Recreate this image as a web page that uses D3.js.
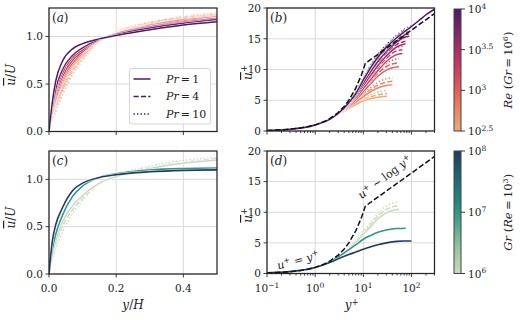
<!DOCTYPE html>
<html><head><meta charset="utf-8">
<script src="https://cdn.jsdelivr.net/npm/d3@7"></script>
<style>body{margin:0;background:#fff}svg text{font-family:"DejaVu Serif",serif;fill:#222}</style>
</head><body><svg id="c" width="520" height="320"></svg>
<script>
// ---------------- DATA ----------------
const reExponents = [2.5, 2.75, 3, 3.25, 3.5, 3.75, 4];
const prandtlValues = [1, 4, 10];
const grExponents = [6, 7, 8];
const reTicks = [2.5, 3, 3.5, 4];
const grTicks = [6, 7, 8];
const outerTicks = [0, 0.2, 0.4];
const outerYTicks = [0, 0.5, 1.0];
const plusYTicks = [0, 5, 10, 15, 20];
const plusXTicks = [-1, 0, 1, 2];

// panel (a): y/H grid and mean velocity u/U, [Re][Pr]
const outerGrid = [0, 0.01, 0.02, 0.04, 0.07, 0.1, 0.15, 0.2, 0.3, 0.4, 0.5];
const outerU = [
  [[0,0.17,0.31,0.50,0.68,0.80,0.957,1.04,1.125,1.18,1.22],
   [0,0.14,0.26,0.44,0.64,0.776,0.954,1.045,1.14,1.20,1.23],
   [0,0.11,0.21,0.39,0.60,0.75,0.95,1.05,1.15,1.21,1.245]],
  [[0,0.19,0.33,0.52,0.70,0.82,0.96,1.035,1.12,1.18,1.21],
   [0,0.15,0.28,0.47,0.66,0.79,0.955,1.04,1.13,1.19,1.225],
   [0,0.13,0.24,0.42,0.62,0.765,0.952,1.047,1.145,1.20,1.24]],
  [[0,0.20,0.35,0.55,0.72,0.83,0.96,1.03,1.115,1.17,1.205],
   [0,0.17,0.31,0.50,0.68,0.80,0.957,1.04,1.125,1.18,1.22],
   [0,0.14,0.26,0.44,0.64,0.776,0.954,1.045,1.14,1.20,1.23]],
  [[0,0.22,0.39,0.58,0.75,0.84,0.964,1.03,1.105,1.16,1.195],
   [0,0.19,0.33,0.52,0.70,0.82,0.96,1.035,1.12,1.18,1.21],
   [0,0.15,0.28,0.47,0.66,0.79,0.955,1.04,1.13,1.19,1.225]],
  [[0,0.24,0.42,0.62,0.78,0.86,0.965,1.025,1.10,1.15,1.19],
   [0,0.20,0.35,0.55,0.72,0.83,0.96,1.03,1.115,1.17,1.205],
   [0,0.17,0.31,0.50,0.68,0.80,0.957,1.04,1.125,1.18,1.22]],
  [[0,0.26,0.45,0.65,0.80,0.88,0.97,1.02,1.09,1.14,1.18],
   [0,0.22,0.39,0.58,0.75,0.84,0.964,1.03,1.105,1.16,1.195],
   [0,0.19,0.34,0.53,0.71,0.82,0.96,1.035,1.12,1.17,1.21]],
  [[0,0.31,0.53,0.74,0.87,0.925,0.975,1.01,1.07,1.12,1.155],
   [0,0.25,0.43,0.64,0.79,0.87,0.97,1.02,1.09,1.15,1.18],
   [0,0.22,0.39,0.58,0.75,0.84,0.964,1.03,1.105,1.16,1.195]]
];

// panel (b): y+ grids per Re and u+ values [Re][Pr]
const plusGrid = [
  [0.1,0.3,1,2,3,5,7,10,15,20,31],
  [0.1,0.3,1,2,3,5,7,10,15,20,30,40],
  [0.1,0.3,1,2,3,5,7,10,15,20,30,40,55],
  [0.1,0.3,1,2,3,5,7,10,15,20,30,45,65],
  [0.1,0.3,1,2,3,5,7,10,15,20,30,50,75],
  [0.1,0.3,1,2,3,5,7,10,15,20,30,50,70,90],
  [0.1,0.3,1,2,3,5,7,10,15,20,30,50,70,100,150,200,300]
];
const plusU = [
  [[0.1,0.3,0.98,1.88,2.65,3.7,4.3,4.9,5.3,5.5,5.65],
   [0.1,0.3,0.98,1.88,2.67,3.8,4.45,5.1,5.6,5.85,6.1],
   [0.1,0.3,0.98,1.88,2.7,3.9,4.6,5.35,5.95,6.3,6.6]],
  [[0.1,0.3,0.98,1.88,2.7,3.9,4.7,5.6,6.5,7.0,7.4,7.5],
   [0.1,0.3,0.98,1.88,2.72,4.0,4.85,5.85,6.85,7.45,7.95,8.1],
   [0.1,0.3,0.98,1.88,2.75,4.1,5.0,6.1,7.2,7.9,8.5,8.7]],
  [[0.1,0.3,0.98,1.88,2.75,4.1,5.1,6.4,7.9,8.9,9.9,10.3,10.45],
   [0.1,0.3,0.98,1.88,2.77,4.2,5.25,6.65,8.25,9.35,10.45,10.9,11.1],
   [0.1,0.3,0.98,1.88,2.8,4.3,5.4,6.9,8.6,9.8,11.0,11.5,11.8]],
  [[0.1,0.3,0.98,1.88,2.78,4.3,5.4,6.9,8.6,9.8,11.3,12.3,12.6],
   [0.1,0.3,0.98,1.88,2.8,4.35,5.55,7.15,8.95,10.2,11.8,12.9,13.2],
   [0.1,0.3,0.98,1.88,2.82,4.4,5.7,7.4,9.3,10.6,12.3,13.4,13.8]],
  [[0.1,0.3,0.98,1.88,2.8,4.4,5.7,7.4,9.3,10.6,12.2,13.7,14.2],
   [0.1,0.3,0.98,1.88,2.82,4.45,5.8,7.6,9.6,10.95,12.6,14.1,14.6],
   [0.1,0.3,0.98,1.88,2.84,4.5,5.9,7.8,9.9,11.3,13.0,14.6,15.1]],
  [[0.1,0.3,0.98,1.88,2.82,4.5,5.9,7.8,9.9,11.3,12.9,14.5,15.2,15.4],
   [0.1,0.3,0.98,1.88,2.84,4.55,6.0,8.0,10.2,11.6,13.3,14.9,15.6,15.8],
   [0.1,0.3,0.98,1.88,2.86,4.6,6.1,8.2,10.5,11.9,13.6,15.3,16.0,16.2]],
  [[0.1,0.3,0.98,1.88,2.85,4.6,6.1,8.3,10.6,12.0,13.6,15.2,16.1,17.0,18.1,18.9,19.8],
   [0.1,0.3,0.98,1.88,2.86,4.65,6.2,8.45,10.8,12.2,13.8,15.4,16.3,16.9],
   [0.1,0.3,0.98,1.88,2.87,4.7,6.3,8.6,11.0,12.4,14.0,15.6,16.5,17.1]]
];

// panels (c),(d): Gr = 1e7 and 1e8 (Pr = 1); Gr = 1e6 equals Re = 1e3 case above
const grOuterU = [
  null,
  [0,0.26,0.42,0.62,0.82,0.93,1.02,1.06,1.10,1.115,1.12],
  [0,0.35,0.52,0.70,0.88,0.96,1.02,1.05,1.08,1.095,1.10]
];
const grPlusGrid = [
  null,
  [0.1,0.3,1,2,3,5,7,10,15,20,30,50,76],
  [0.1,0.3,1,2,3,5,7,10,15,20,30,50,70,100]
];
const grPlusU = [
  null,
  [0.1,0.3,0.98,1.88,2.7,3.9,4.7,5.6,6.3,6.75,7.1,7.35,7.4],
  [0.1,0.3,0.97,1.8,2.4,3.1,3.5,3.95,4.4,4.7,5.0,5.25,5.3,5.3]
];

// law of the wall reference
const wallYPlus = [0.1,0.15,0.2,0.3,0.5,0.7,1,1.5,2,3,4,5,7,9,11,300];
const wallUPlus = [0.1,0.15,0.2,0.3,0.5,0.7,1,1.5,2,3,4,5,7,9,11,19.1];

// ---------------- DRAW ----------------
const svg = d3.select("#c");
const ink = "#262626";
const flare = d3.interpolateRgbBasis(["#eea879","#ec8e68","#e6695a","#d94a5a","#c03664","#9b2c6b","#70246a","#4a1d5e"]);
const crest = d3.interpolateRgbBasis(["#cbd9c1","#a6c9a4","#6db395","#2a9487","#1f7a7c","#205d71","#203c5c"]);
const reT = d3.scaleLinear([2.5,4],[0,1]);
const grT = d3.scaleLinear([6,8],[0,1]);
const dashes = [null, "5.2,2.2", "1.4,2.1"];

const A = {l:49, r:217, t:8, b:131.5};
const B = {l:267, r:434.5, t:8, b:131};
const C = {l:49, r:217, t:151, b:274};
const D = {l:267, r:434.5, t:151, b:273.5};

const xA = d3.scaleLinear([0,0.5],[A.l,A.r]), yA = d3.scaleLinear([0,1.3],[A.b,A.t]);
const xC = d3.scaleLinear([0,0.5],[C.l,C.r]), yC = d3.scaleLinear([0,1.3],[C.b,C.t]);
const xB = d3.scaleLog([0.1,300],[B.l,B.r]), yB = d3.scaleLinear([0,20],[B.b,B.t]);
const xD = d3.scaleLog([0.1,300],[D.l,D.r]), yD = d3.scaleLinear([0,20],[D.b,D.t]);

const defs = svg.append("defs");
function clip(id,P){defs.append("clipPath").attr("id",id).append("rect").attr("x",P.l).attr("y",P.t).attr("width",P.r-P.l).attr("height",P.b-P.t);}
clip("ca",A);clip("cb",B);clip("cc",C);clip("cd",D);

function grid(P,x,y,xs,ys){
  const g = svg.append("g");
  xs.forEach(v=>g.append("line").attr("x1",x(v)).attr("x2",x(v)).attr("y1",P.t).attr("y2",P.b).attr("stroke","#dadada").attr("stroke-width",1));
  ys.forEach(v=>g.append("line").attr("x1",P.l).attr("x2",P.r).attr("y1",y(v)).attr("y2",y(v)).attr("stroke","#dadada").attr("stroke-width",1));
}
grid(A,xA,yA,outerTicks,outerYTicks);
grid(C,xC,yC,outerTicks,outerYTicks);
grid(B,xB,yB,plusXTicks.map(e=>Math.pow(10,e)),plusYTicks);
grid(D,xD,yD,plusXTicks.map(e=>Math.pow(10,e)),plusYTicks);

function drawLine(g,pts,x,y,color,dash,lw){
  const line = d3.line().x(d=>x(d[0])).y(d=>y(d[1])).curve(d3.curveMonotoneX);
  const d = line(pts);
  g.append("path").attr("d",d).attr("fill","none").attr("stroke","#fff").attr("stroke-width",lw+0.9).attr("stroke-dasharray",dash);
  g.append("path").attr("d",d).attr("fill","none").attr("stroke",color).attr("stroke-width",lw).attr("stroke-dasharray",dash);
}

const gA = svg.append("g").attr("clip-path","url(#ca)");
const gB = svg.append("g").attr("clip-path","url(#cb)");
const gC = svg.append("g").attr("clip-path","url(#cc)");
const gD = svg.append("g").attr("clip-path","url(#cd)");

for (let j=2;j>=0;j--){
  reExponents.forEach((e,i)=>{
    const col = flare(reT(e));
    drawLine(gA, outerGrid.map((g,k)=>[g,outerU[i][j][k]]), xA,yA,col,dashes[j],1.5);
    drawLine(gB, plusU[i][j].map((u,k)=>[plusGrid[i][k],u]), xB,yB,col,dashes[j],1.5);
  });
}
// Gr series: index 0 (Gr=1e6) is Re=1e3 run
const reIdx = reExponents.indexOf(3);
for (let j=2;j>=0;j--){
  const col = crest(grT(6));
  drawLine(gC, outerGrid.map((g,k)=>[g,outerU[reIdx][j][k]]), xC,yC,col,dashes[j],1.5);
  drawLine(gD, plusU[reIdx][j].map((u,k)=>[plusGrid[reIdx][k],u]), xD,yD,col,dashes[j],1.5);
}
[1,2].forEach(i=>{
  const col = crest(grT(grExponents[i]));
  drawLine(gC, outerGrid.map((g,k)=>[g,grOuterU[i][k]]), xC,yC,col,null,1.6);
  drawLine(gD, grPlusU[i].map((u,k)=>[grPlusGrid[i][k],u]), xD,yD,col,null,1.6);
});

// law of the wall
[[gB,xB,yB],[gD,xD,yD]].forEach(([g,x,y])=>{
  const line = d3.line().x(d=>x(d[0])).y(d=>y(d[1]));
  g.append("path").attr("d",line(wallYPlus.map((v,k)=>[v,wallUPlus[k]]))).attr("fill","none").attr("stroke","#111").attr("stroke-width",1.5).attr("stroke-dasharray","5.5,2.4");
});

// frames & ticks
function frame(P){svg.append("rect").attr("x",P.l).attr("y",P.t).attr("width",P.r-P.l).attr("height",P.b-P.t).attr("fill","none").attr("stroke",ink).attr("stroke-width",1.25);}
[A,B,C,D].forEach(frame);
function xticks(P,x,vals,len){vals.forEach(v=>svg.append("line").attr("x1",x(v)).attr("x2",x(v)).attr("y1",P.b).attr("y2",P.b+len).attr("stroke",ink).attr("stroke-width",0.9));}
function yticks(P,y,vals){vals.forEach(v=>svg.append("line").attr("x1",P.l-3.5).attr("x2",P.l).attr("y1",y(v)).attr("y2",y(v)).attr("stroke",ink).attr("stroke-width",0.9));}
xticks(A,xA,outerTicks,3.5); xticks(C,xC,outerTicks,3.5);
yticks(A,yA,outerYTicks); yticks(C,yC,outerYTicks);
yticks(B,yB,plusYTicks); yticks(D,yD,plusYTicks);
const majors = plusXTicks.map(e=>Math.pow(10,e));
const minors = [];
[-1,0,1,2].forEach(e=>{for(let m=2;m<=9;m++){const v=m*Math.pow(10,e); if(v<=300) minors.push(v);}});
[[B,xB],[D,xD]].forEach(([P,x])=>{xticks(P,x,majors,3.5); xticks(P,x,minors,2);});

const fs = 10.5;
function ytl(P,y,vals,fmt){vals.forEach(v=>svg.append("text").attr("x",P.l-6).attr("y",y(v)).attr("dy","0.36em").attr("text-anchor","end").attr("font-size",fs).text(fmt(v)));}
ytl(A,yA,outerYTicks,d3.format(".1f")); ytl(C,yC,outerYTicks,d3.format(".1f"));
ytl(B,yB,plusYTicks,d3.format("d")); ytl(D,yD,plusYTicks,d3.format("d"));
outerTicks.forEach(v=>svg.append("text").attr("x",xC(v)).attr("y",292).attr("text-anchor","middle").attr("font-size",fs).text(d3.format(".1f")(v)));
plusXTicks.forEach(e=>{
  const t = svg.append("text").attr("x",xD(Math.pow(10,e))).attr("y",292).attr("text-anchor","middle").attr("font-size",fs);
  t.append("tspan").text("10");
  t.append("tspan").attr("font-size",7.5).attr("dy",-4.5).text(e<0?"\u2212"+(-e):String(e));
});

// axis labels
function uLabel(x,cy,sup,outer){
  const t = svg.append("text").attr("transform",`translate(${x},${cy}) rotate(-90)`).attr("text-anchor","middle").attr("font-size",12);
  t.append("tspan").attr("font-style","italic").attr("text-decoration","overline").text("u");
  if(outer){t.append("tspan").text("/"); t.append("tspan").attr("font-style","italic").text("U");}
  if(sup){t.append("tspan").attr("font-size",8.5).attr("dy",-5).text("+");}
}
uLabel(15,(A.t+A.b)/2+5,false,true);
uLabel(15,(C.t+C.b)/2+5,false,true);
uLabel(252,(B.t+B.b)/2+3,true,false);
uLabel(252,(D.t+D.b)/2+3,true,false);
{
  const t = svg.append("text").attr("x",(C.l+C.r)/2).attr("y",309).attr("text-anchor","middle").attr("font-size",12);
  t.append("tspan").attr("font-style","italic").text("y");
  t.append("tspan").text("/");
  t.append("tspan").attr("font-style","italic").text("H");
  const s = svg.append("text").attr("x",(D.l+D.r)/2+1).attr("y",309).attr("text-anchor","middle").attr("font-size",12);
  s.append("tspan").attr("font-style","italic").text("y");
  s.append("tspan").attr("font-size",8.5).attr("dy",-4.5).text("+");
}
// panel letters
[[A,"a"],[B,"b"],[C,"c"],[D,"d"]].forEach(([P,l])=>{
  const t = svg.append("text").attr("x",P.l+3).attr("y",P.t+14).attr("font-size",12);
  t.append("tspan").text("(");
  t.append("tspan").attr("font-style","italic").text(l);
  t.append("tspan").text(")");
});

// legend
{
  const g = svg.append("g");
  g.append("rect").attr("x",129.5).attr("y",68.5).attr("width",81).attr("height",55.5).attr("rx",2.5).attr("fill","#fff").attr("fill-opacity",0.85).attr("stroke","#cccccc").attr("stroke-width",0.8);
  const legCol = flare(1);
  prandtlValues.forEach((p,j)=>{
    const yy = 79 + j*17.5;
    g.append("line").attr("x1",133.5).attr("x2",150.5).attr("y1",yy).attr("y2",yy).attr("stroke",legCol).attr("stroke-width",1.5).attr("stroke-dasharray",dashes[j]);
    const t = g.append("text").attr("x",166).attr("y",yy+3.8).attr("font-size",11);
    t.append("tspan").attr("font-style","italic").text("Pr");
    t.append("tspan").text("\u2009=\u2009"+p);
  });
}

// annotations (d)
{
  const t = svg.append("text").attr("transform","translate(299,264) rotate(-15)").attr("text-anchor","middle").attr("font-size",11);
  t.append("tspan").attr("font-style","italic").text("u");
  t.append("tspan").attr("font-size",8).attr("dy",-4).text("+");
  t.append("tspan").attr("dy",4).text(" = ");
  t.append("tspan").attr("font-style","italic").text("y");
  t.append("tspan").attr("font-size",8).attr("dy",-4).text("+");
  const s = svg.append("text").attr("transform","translate(387,180) rotate(-37)").attr("text-anchor","middle").attr("font-size",11);
  s.append("tspan").attr("font-style","italic").text("u");
  s.append("tspan").attr("font-size",8).attr("dy",-4).text("+");
  s.append("tspan").attr("dy",4).text(" \u223C log ");
  s.append("tspan").attr("font-style","italic").text("y");
  s.append("tspan").attr("font-size",8).attr("dy",-4).text("+");
}

// colorbars
function colorbar(id,y0,y1,interp,dom,ticks,labelParts){
  const x0=454, w=7;
  const lg = defs.append("linearGradient").attr("id",id).attr("x1",0).attr("x2",0).attr("y1",1).attr("y2",0);
  d3.range(0,1.0001,0.05).forEach(t=>lg.append("stop").attr("offset",t).attr("stop-color",interp(t)));
  svg.append("rect").attr("x",x0).attr("y",y0).attr("width",w).attr("height",y1-y0).attr("fill",`url(#${id})`).attr("stroke","#444").attr("stroke-width",1);
  const s = d3.scaleLinear(dom,[y1,y0]);
  ticks.forEach(v=>{
    svg.append("line").attr("x1",x0+w).attr("x2",x0+w+4).attr("y1",s(v)).attr("y2",s(v)).attr("stroke",ink).attr("stroke-width",0.9);
    const t = svg.append("text").attr("x",x0+w+7).attr("y",s(v)+4).attr("font-size",fs);
    t.append("tspan").text("10");
    t.append("tspan").attr("font-size",7.5).attr("dy",-4.5).text(String(v));
  });
  const cy=(y0+y1)/2;
  const t = svg.append("text").attr("transform",`translate(512,${cy}) rotate(-90)`).attr("text-anchor","middle").attr("font-size",11.5);
  t.append("tspan").attr("font-style","italic").text(labelParts[0]);
  t.append("tspan").text(" (");
  t.append("tspan").attr("font-style","italic").text(labelParts[1]);
  t.append("tspan").text("\u2009=\u200910");
  t.append("tspan").attr("font-size",8).attr("dy",-4.5).text(labelParts[2]);
  t.append("tspan").attr("dy",4.5).text(")");
}
colorbar("gre",9,131,flare,[2.5,4],reTicks,["Re","Gr","6"]);
colorbar("ggr",151,273.5,crest,[6,8],grTicks,["Gr","Re","3"]);
</script></body></html>
